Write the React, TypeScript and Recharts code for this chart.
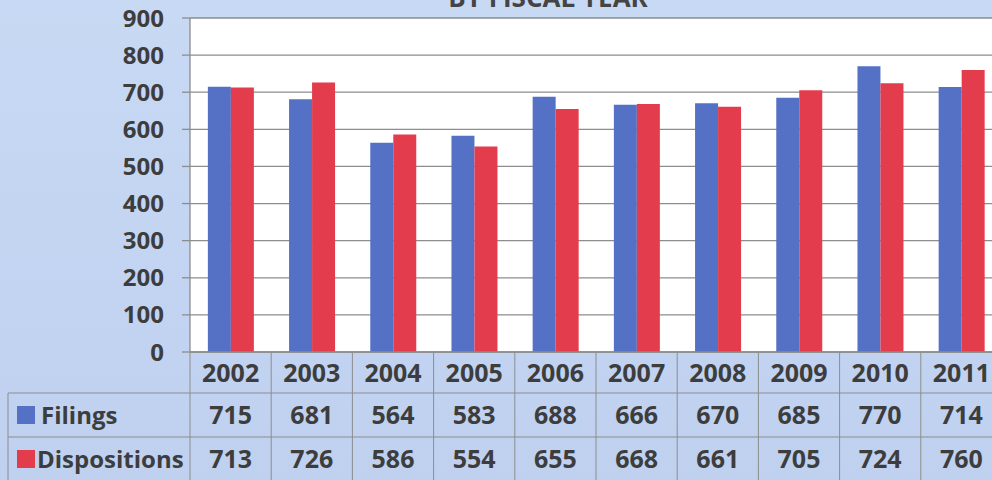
import { BarChart, Bar, XAxis, YAxis, CartesianGrid, Customized } from "recharts";

const YEARS = ["2002", "2003", "2004", "2005", "2006", "2007", "2008", "2009", "2010", "2011"];
const FILINGS = [715, 681, 564, 583, 688, 666, 670, 685, 770, 714];
const DISPOSITIONS = [713, 726, 586, 554, 655, 668, 661, 705, 724, 760];
const Y_TICKS = [0, 100, 200, 300, 400, 500, 600, 700, 800, 900];

const SERIES = [
  { key: "filings", name: "Filings", color: "#5471c6", values: FILINGS },
  { key: "dispositions", name: "Dispositions", color: "#e33d4d", values: DISPOSITIONS },
];

const data = YEARS.map((year, i) => ({
  year,
  filings: FILINGS[i],
  dispositions: DISPOSITIONS[i],
}));

// layout
const CHART_W = 1010;
const CHART_H = 480;
const PLOT_LEFT = 190;
const PLOT_RIGHT = 1002;
const PLOT_TOP = 18;
const PLOT_BOTTOM = 352;
const COL_W = (PLOT_RIGHT - PLOT_LEFT) / YEARS.length;
const ROW1_TOP = 393;
const ROW2_TOP = 437;
const TABLE_BOTTOM = 490;
const TABLE_LEFT = 8;

const FONT = "'Open Sans', 'DejaVu Sans', sans-serif";
const TEXT = "#3d3d3d";
const LINE = "#8d8d8d";

const rowCenter = (r: number) => (r === 0 ? (ROW1_TOP + ROW2_TOP) / 2 : ROW2_TOP + 22);

// one table column per category, drawn as the x axis tick
function TableTick(props: any) {
  const { x, payload } = props;
  const i = payload.index;
  const right = x + COL_W / 2;
  const left = x - COL_W / 2;
  return (
    <g>
      <line x1={right} y1={PLOT_BOTTOM} x2={right} y2={TABLE_BOTTOM} stroke={LINE} strokeWidth={1} />
      <line x1={left} y1={ROW1_TOP} x2={right} y2={ROW1_TOP} stroke={LINE} strokeWidth={1} />
      <line x1={left} y1={ROW2_TOP} x2={right} y2={ROW2_TOP} stroke={LINE} strokeWidth={1} />
      <text x={x} y={(PLOT_BOTTOM + ROW1_TOP) / 2} dy="0.36em" textAnchor="middle"
        fontFamily={FONT} fontWeight={700} fontSize={25} fill={TEXT}>
        {YEARS[i]}
      </text>
      {SERIES.map((s, r) => (
        <text key={s.key} x={x} y={rowCenter(r)} dy="0.36em"
          textAnchor="middle" fontFamily={FONT} fontWeight={700} fontSize={25} fill={TEXT}>
          {s.values[i]}
        </text>
      ))}
    </g>
  );
}

function LegendColumn() {
  return (
    <g>
      <text x={548} y={7} textAnchor="middle" fontFamily={FONT} fontWeight={700} fontSize={26} fill="#444">
        BY FISCAL YEAR
      </text>
      <line x1={PLOT_LEFT} y1={PLOT_BOTTOM} x2={PLOT_LEFT} y2={TABLE_BOTTOM} stroke={LINE} strokeWidth={1} />
      <line x1={TABLE_LEFT} y1={ROW1_TOP} x2={TABLE_LEFT} y2={TABLE_BOTTOM} stroke={LINE} strokeWidth={1} />
      <line x1={TABLE_LEFT} y1={ROW1_TOP} x2={PLOT_LEFT} y2={ROW1_TOP} stroke={LINE} strokeWidth={1} />
      <line x1={TABLE_LEFT} y1={ROW2_TOP} x2={PLOT_LEFT} y2={ROW2_TOP} stroke={LINE} strokeWidth={1} />
      {SERIES.map((s, r) => {
        const cy = rowCenter(r);
        return (
          <g key={s.key}>
            <rect x={17} y={cy - 9} width={18} height={18} fill={s.color} />
            <text x={r === 0 ? 41 : 37} y={cy} dy="0.36em" fontFamily={FONT} fontWeight={700}
              fontSize={24} fill={TEXT}>
              {s.name}
            </text>
          </g>
        );
      })}
    </g>
  );
}

export default function App() {
  return (
    <div
      style={{
        position: "fixed",
        left: 0,
        top: 0,
        width: 992,
        height: 480,
        overflow: "hidden",
        background: "linear-gradient(180deg, #c8d9f4 0%, #c2d4f1 60%, #bfd1ef 100%)",
      }}
    >
      <BarChart
        width={CHART_W}
        height={CHART_H}
        data={data}
        margin={{ top: PLOT_TOP, right: CHART_W - PLOT_RIGHT, bottom: 0, left: 0 }}
        barCategoryGap="22%"
        barGap={0}
      >
        <CartesianGrid vertical={false} fill="#ffffff" stroke={LINE} strokeWidth={1.3} />
        <XAxis
          dataKey="year"
          interval={0}
          tickLine={false}
          axisLine={{ stroke: LINE, strokeWidth: 1.3 }}
          height={CHART_H - PLOT_BOTTOM}
          tick={<TableTick />}
        />
        <YAxis
          width={PLOT_LEFT}
          domain={[0, 900]}
          ticks={Y_TICKS}
          interval={0}
          tickSize={8}
          tickMargin={18}
          axisLine={{ stroke: LINE, strokeWidth: 1.3 }}
          tickLine={{ stroke: LINE, strokeWidth: 1.3 }}
          tick={{ fontFamily: FONT, fontWeight: 700, fontSize: 24, fill: TEXT }}
        />
        {SERIES.map((s) => (
          <Bar key={s.key} dataKey={s.key} name={s.name} fill={s.color} isAnimationActive={false} />
        ))}
        <Customized component={<LegendColumn />} />
      </BarChart>
    </div>
  );
}
